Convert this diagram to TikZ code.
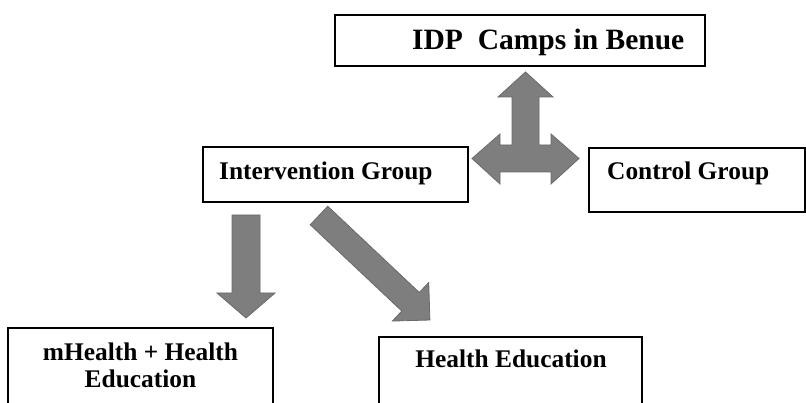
\documentclass[tikz,border=0pt]{standalone}
\usepackage{fontspec}
\setmainfont{Liberation Serif}
\begin{document}
\begin{tikzpicture}[x=1pt,y=-1pt,
  box/.style={draw=black, line width=1.6pt, fill=white, inner sep=0pt, rectangle},
  lbl/.style={font=\bfseries\fontsize{25.4}{27}\selectfont, inner sep=0pt, text=black},
  blockarrow/.style={fill={rgb,255:red,126;green,126;blue,126}, draw={rgb,255:red,105;green,105;blue,105}, line width=0.8pt, line join=miter}]
\useasboundingbox (0,0) rectangle (806,403);
\clip (0,0) rectangle (806,403);
\fill[white] (0,0) rectangle (806,403);

% boxes
\node[box, minimum width=370pt, minimum height=51pt] (idp) at (520,40.5) {};
\node[lbl, font=\bfseries\fontsize{29.5}{31}\selectfont, anchor=base west] (idpt) at (412,50) {IDP\ \ Camps in Benue};

\node[box, minimum width=265pt, minimum height=55pt] (int) at (335.5,174.5) {};
\node[lbl, anchor=base west] (intt) at (219,180) {Intervention Group};

\node[box, minimum width=216pt, minimum height=64pt] (ctl) at (697,180) {};
\node[lbl, anchor=base west] (ctlt) at (607,180) {Control Group};

\node[box, minimum width=265pt, minimum height=90pt] (mh) at (140.5,373) {};
\node[lbl, align=center, anchor=base] (mht) at (140.5,387) {mHealth + Health\\Education};

\node[box, minimum width=263pt, minimum height=80pt] (he) at (510.5,377) {};
\node[lbl, anchor=base] (het) at (511,367) {Health Education};

% three-way block arrow
\draw[blockarrow] (525.5,72) -- (553,97) -- (539,97) -- (539,145) -- (551,145) -- (551,134)
  -- (579,158.5) -- (551,184) -- (551,172) -- (500,172) -- (500,184) -- (472,158.5)
  -- (500,134) -- (500,145) -- (512,145) -- (512,97) -- (498,97) -- cycle;

% down block arrow
\draw[blockarrow] (232,215) -- (260,215) -- (260,293) -- (275,293) -- (246,318)
  -- (217,293) -- (232,293) -- cycle;

% diagonal block arrow
\begin{scope}[shift={(319,215.5)}, rotate=-43.3, x=1pt, y=1pt]
\draw[blockarrow] (0,-12.75) -- (125.8,-12.75) -- (125.8,-26.5) -- (152.4,0)
  -- (125.8,26.5) -- (125.8,12.75) -- (0,12.75) -- cycle;
\end{scope}
\end{tikzpicture}
\end{document}
